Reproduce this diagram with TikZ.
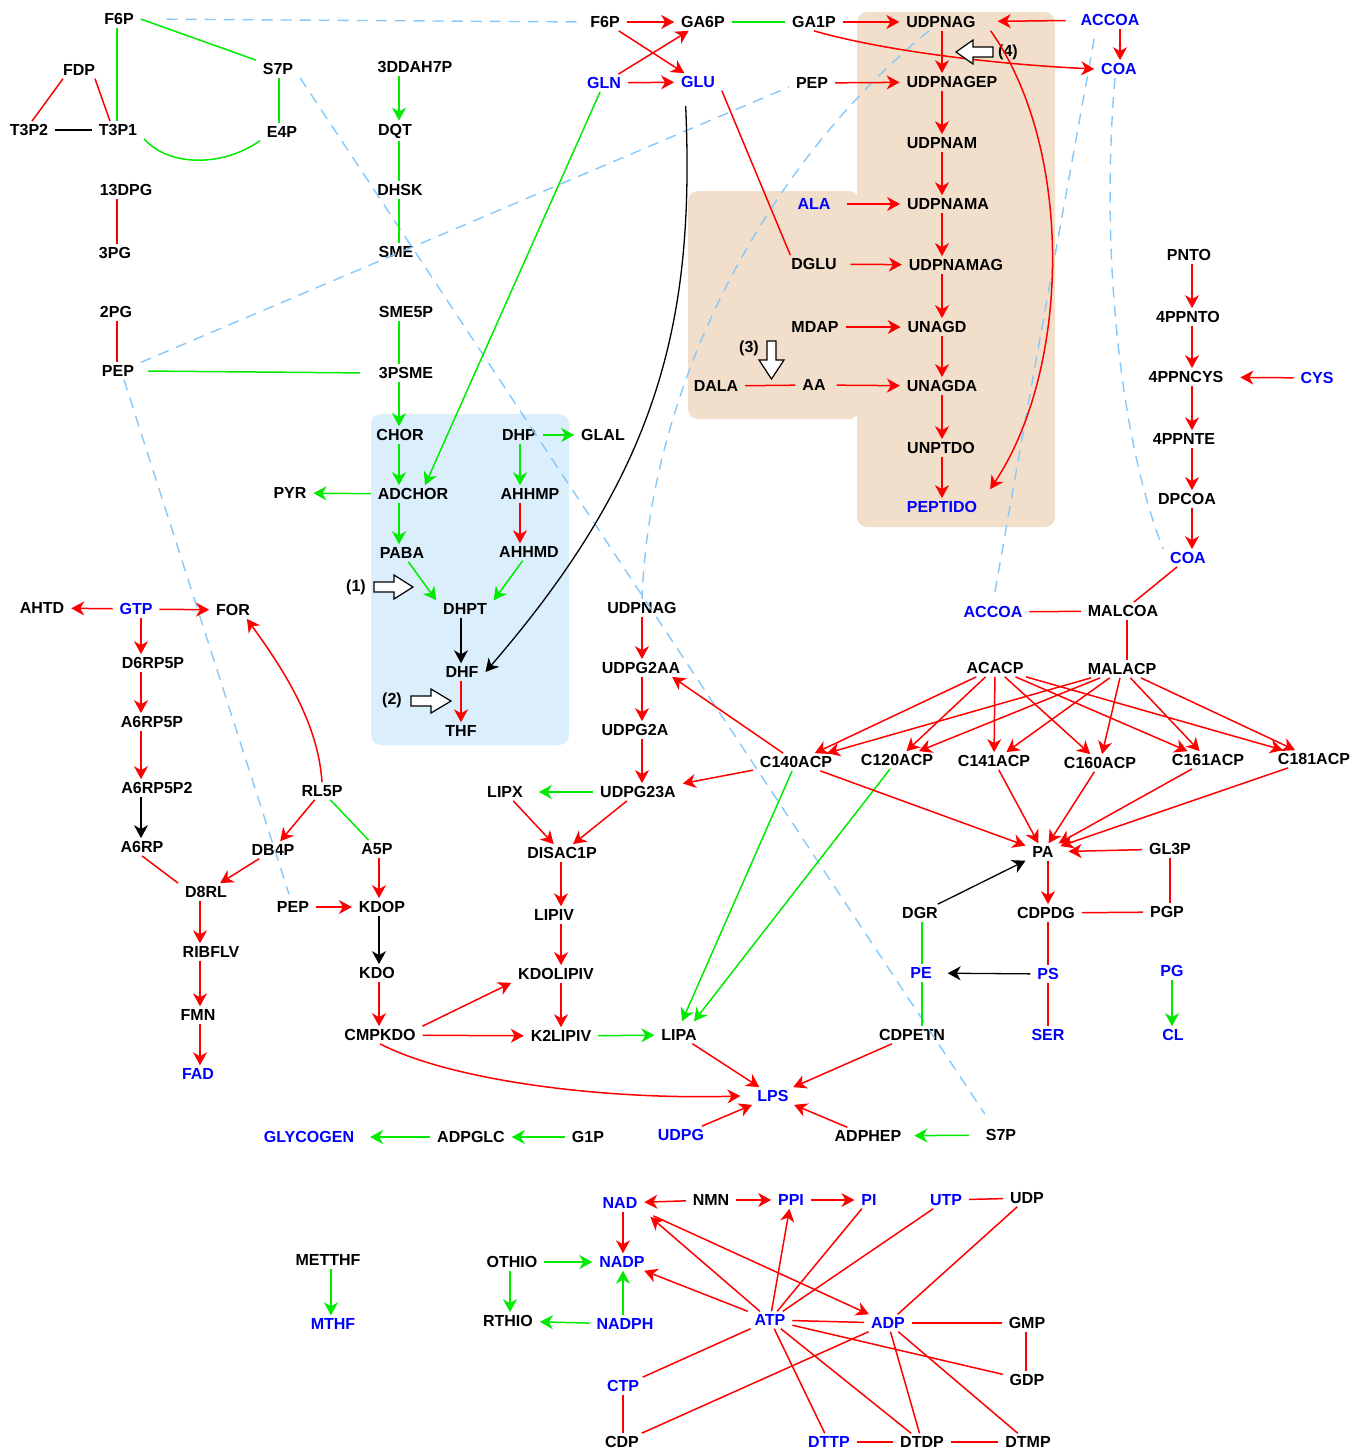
\documentclass[tikz,border=0pt]{standalone}
\usepackage{fontspec}
\setmainfont{Liberation Sans}
\usetikzlibrary{arrows.meta}
\definecolor{cred}{RGB}{255,0,0}
\definecolor{cgreen}{RGB}{0,235,0}
\definecolor{tblue}{RGB}{0,0,255}
\definecolor{cdash}{RGB}{135,200,250}
\definecolor{bxblue}{RGB}{219,238,252}
\definecolor{bxbrown}{RGB}{242,223,203}
\newcommand\lbl{\fontsize{16}{19}\selectfont\bfseries}
\begin{document}
\begin{tikzpicture}[x=1pt,y=-1pt,
  n/.style={font=\lbl, inner xsep=7pt, inner ysep=3.2pt, outer sep=0pt},
  bn/.style={n, text=tblue},
  r/.style={draw=cred, line width=1.5pt},
  g/.style={draw=cgreen, line width=1.5pt},
  k/.style={draw=black, line width=1.3pt},
  ar/.style={-{Stealth[length=13pt,width=14pt,inset=4pt]}},
  ds/.style={draw=cdash, line width=1.4pt, dash pattern=on 11pt off 8pt},
  hol/.style={draw=black, fill=white, line width=1.2pt, line join=miter},
]
\useasboundingbox (0,0) rectangle (1352,1451);
% boxes
\fill[bxblue, rounded corners=10pt] (371,414) rectangle (569,745);
\fill[bxbrown, rounded corners=10pt] (857,12) rectangle (1055,527);
\fill[bxbrown, rounded corners=10pt] (688,191) rectangle (859,419);
% column coordinates
\coordinate (xA) at (117,0);
\coordinate (xB) at (279,0);
\coordinate (xC) at (399,0);
\coordinate (xD) at (520,0);
\coordinate (xE) at (461,0);
\coordinate (xF) at (141,0);
\coordinate (xG) at (200,0);
\coordinate (xH) at (379,0);
\coordinate (xI) at (642,0);
\coordinate (xJ) at (561,0);
\coordinate (xK) at (942,0);
\coordinate (xL) at (1120,0);
\coordinate (xM) at (1192,0);
\coordinate (xN) at (1048,0);
\coordinate (xO) at (922,0);
\coordinate (xP) at (1170,0);
\coordinate (xP2) at (1172,0);
\coordinate (xQ) at (331,0);
\coordinate (xR) at (510,0);
\coordinate (xS) at (623,0);
\coordinate (xT) at (1026,0);
\coordinate (xU) at (1127,0);
% nodes top-left
\node[n] (F6Pa) at (119,19) {F6P};
\node[n] (FDP) at (79,70) {FDP};
\node[n] (S7Pa) at (278,69) {S7P};
\node[n] (T3P2) at (29,130) {T3P2};
\node[n] (T3P1) at (118,130) {T3P1};
\node[n] (E4P) at (282,132) {E4P};
\node[n] (DDAH) at (415,67) {3DDAH7P};
\node[n] (DQT) at (395,131) {DQT};
\node[n] (DHSK) at (400,190) {DHSK};
\node[n] (SME) at (396,252) {SME};
\node[n] (DPG13) at (126,190) {13DPG};
\node[n] (PG3) at (115,253) {3PG};
\node[n] (PG2) at (116,312) {2PG};
\node[n] (PEPa) at (118,371) {PEP};
\node[n] (SMEP) at (406,312) {SME5P};
\node[n] (PSME) at (406,373) {3PSME};
% top middle
\node[n] (F6Pb) at (605,22) {F6P};
\node[n] (GA6P) at (703,22) {GA6P};
\node[n] (GA1P) at (814,22) {GA1P};
\node[bn] (GLN) at (604,83) {GLN};
\node[bn] (GLU) at (698,82) {GLU};
\node[n] (PEPb) at (812,83) {PEP};
\node[n] (UDPNAGa) at (941,22) {UDPNAG};
\node[n] (UDPNAGEP) at (952,82) {UDPNAGEP};
\node[n] (UDPNAM) at (942,143) {UDPNAM};
\node[bn] (ALA) at (814,204) {ALA};
\node[n] (UDPNAMA) at (948,204) {UDPNAMA};
\node[n] (DGLU) at (814,264) {DGLU};
\node[n] (UDPNAMAG) at (956,265) {UDPNAMAG};
\node[n] (MDAP) at (815,327) {MDAP};
\node[n] (UNAGD) at (937,327) {UNAGD};
\node[n] (DALA) at (716,386) {DALA};
\node[n] (AA) at (814,385) {AA};
\node[n] (UNAGDA) at (942,386) {UNAGDA};
\node[n] (UNPTDO) at (941,448) {UNPTDO};
\node[bn] (PEPTIDO) at (942,507) {PEPTIDO};
\node[bn] (ACCOAa) at (1110,20) {ACCOA};
\node[bn] (COAa) at (1119,69) {COA};
\node[n] (L3) at (749,348) {(3)};
\node[n] (L4) at (1008,52) {(4)};
% right
\node[n] (PNTO) at (1189,255) {PNTO};
\node[n] (PPNTO) at (1188,317) {4PPNTO};
\node[n] (PPNCYS) at (1186,377) {4PPNCYS};
\node[bn] (CYS) at (1317,378) {CYS};
\node[n] (PPNTE) at (1184,439) {4PPNTE};
\node[n] (DPCOA) at (1187,499) {DPCOA};
\node[bn] (COAb) at (1188,558) {COA};
\node[bn] (ACCOAb) at (993,612) {ACCOA};
\node[n] (MALCOA) at (1123,611) {MALCOA};
\node[n] (ACACP) at (995,668) {ACACP};
\node[n] (MALACP) at (1122,669) {MALACP};
\node[n] (C140ACP) at (796,762) {C140ACP};
\node[n] (C120ACP) at (897,760) {C120ACP};
\node[n] (C141ACP) at (994,761) {C141ACP};
\node[n] (C160ACP) at (1100,763) {C160ACP};
\node[n] (C161ACP) at (1208,760) {C161ACP};
\node[n] (C181ACP) at (1314,759) {C181ACP};
\node[n] (PA) at (1043,852) {PA};
\node[n] (GL3P) at (1170,849) {GL3P};
\node[n] (DGR) at (920,913) {DGR};
\node[n] (CDPDG) at (1046,913) {CDPDG};
\node[n] (PGP) at (1167,912) {PGP};
\node[bn] (PE) at (921,973) {PE};
\node[bn] (PS) at (1048,974) {PS};
\node[bn] (PG) at (1172,971) {PG};
\node[n] (CDPETN) at (912,1035) {CDPETN};
\node[bn] (SER) at (1048,1035) {SER};
\node[bn] (CL) at (1173,1035) {CL};
% blue box
\node[n] (CHOR) at (400,435) {CHOR};
\node[n] (DHP) at (519,435) {DHP};
\node[n] (GLAL) at (603,435) {GLAL};
\node[n] (PYR) at (290,493) {PYR};
\node[n] (ADCHOR) at (413,494) {ADCHOR};
\node[n] (AHHMP) at (530,494) {AHHMP};
\node[n] (PABA) at (402,553) {PABA};
\node[n] (AHHMD) at (529,552) {AHHMD};
\node[n] (L1) at (356,587) {(1)};
\node[n] (DHPT) at (465,609) {DHPT};
\node[n] (DHF) at (462,672) {DHF};
\node[n] (L2) at (392,700) {(2)};
\node[n] (THF) at (461,731) {THF};
% left middle
\node[n] (AHTD) at (42,608) {AHTD};
\node[bn] (GTP) at (136,609) {GTP};
\node[n] (FOR) at (233,610) {FOR};
\node[n] (D6RP5P) at (153,663) {D6RP5P};
\node[n] (A6RP5P) at (152,722) {A6RP5P};
\node[n] (A6RP5P2) at (157,788) {A6RP5P2};
\node[n] (A6RP) at (142,847) {A6RP};
\node[n] (RL5P) at (322,791) {RL5P};
\node[n] (DB4P) at (273,850) {DB4P};
\node[n] (A5P) at (377,849) {A5P};
\node[n] (D8RL) at (206,892) {D8RL};
\node[n] (PEPc) at (293,907) {PEP};
\node[n] (KDOP) at (382,907) {KDOP};
\node[n] (RIBFLV) at (211,952) {RIBFLV};
\node[n] (KDO) at (377,973) {KDO};
\node[n] (FMN) at (198,1015) {FMN};
\node[n] (CMPKDO) at (380,1035) {CMPKDO};
\node[bn] (FAD) at (198,1074) {FAD};
% lipid A
\node[n] (UDPNAGb) at (642,608) {UDPNAG};
\node[n] (UDPG2AA) at (641,668) {UDPG2AA};
\node[n] (UDPG2A) at (635,730) {UDPG2A};
\node[n] (UDPG23A) at (638,792) {UDPG23A};
\node[n] (LIPX) at (505,792) {LIPX};
\node[n] (DISAC1P) at (562,853) {DISAC1P};
\node[n] (LIPIV) at (554,915) {LIPIV};
\node[n] (KDOLIPIV) at (556,974) {KDOLIPIV};
\node[n] (K2LIPIV) at (561,1036) {K2LIPIV};
\node[n] (LIPA) at (679,1035) {LIPA};
\node[bn] (LPS) at (773,1096) {LPS};
\node[bn] (UDPG) at (681,1135) {UDPG};
\node[n] (ADPHEP) at (868,1136) {ADPHEP};
\node[n] (S7Pb) at (1001,1135) {S7P};
\node[bn] (GLYCOGEN) at (309,1137) {GLYCOGEN};
\node[n] (ADPGLC) at (471,1137) {ADPGLC};
\node[n] (G1P) at (588,1137) {G1P};
% bottom
\node[bn] (NAD) at (620,1203) {NAD};
\node[n] (NMN) at (711,1200) {NMN};
\node[bn] (PPI) at (791,1200) {PPI};
\node[bn] (PI) at (869,1200) {PI};
\node[bn] (UTP) at (946,1200) {UTP};
\node[n] (UDP) at (1027,1198) {UDP};
\node[n] (METTHF) at (328,1260) {METTHF};
\node[bn] (MTHF) at (333,1324) {MTHF};
\node[n] (OTHIO) at (512,1262) {OTHIO};
\node[bn] (NADP) at (622,1262) {NADP};
\node[n] (RTHIO) at (508,1321) {RTHIO};
\node[bn] (NADPH) at (625,1324) {NADPH};
\node[bn] (ATP) at (770,1320) {ATP};
\node[bn] (ADP) at (888,1323) {ADP};
\node[n] (GMP) at (1027,1323) {GMP};
\node[n] (GDP) at (1027,1380) {GDP};
\node[bn] (CTP) at (623,1386) {CTP};
\node[n] (CDP) at (622,1442) {CDP};
\node[bn] (DTTP) at (829,1442) {DTTP};
\node[n] (DTDP) at (922,1442) {DTDP};
\node[n] (DTMP) at (1028,1442) {DTMP};
% dashed links
\draw[ds, shorten <=26pt, shorten >=3pt] (F6Pa.east) -- (F6Pb.west);
\draw[ds] (S7Pa.south east) -- ([xshift=6pt,yshift=12pt]S7Pb.north west);
\draw[ds] (PEPa.north east) -- ([yshift=-4pt]PEPb.west);
\draw[ds] ([xshift=6pt]PEPa.south) -- ([xshift=-4pt,yshift=4pt]PEPc.north);
\draw[ds] ([xshift=-12pt]UDPNAGa.south) .. controls (770,160) and (650,380) .. (UDPNAGb.north);
\draw[ds, shorten <=10pt, shorten >=8pt] ([xshift=-14pt]ACCOAa.south) .. controls (1065,200) and (1025,420) .. (ACCOAb.north);
\draw[ds] ([xshift=-4pt]COAa.south) .. controls (1100,250) and (1120,440) .. (COAb.north west);
% top-left edges
\draw[g] (F6Pa.east) -- (S7Pa.north west);
\draw[g] (F6Pa.south -| xA) -- (T3P1.north -| xA);
\draw[r] ([xshift=7pt]FDP.south west) -- ([xshift=3pt]T3P2.north);
\draw[r] ([xshift=-7pt]FDP.south east) -- ([xshift=-8pt]T3P1.north);
\draw[k] (T3P2) -- (T3P1);
\draw[g] (S7Pa.south -| xB) -- (E4P.north -| xB);
\draw[g] (T3P1.south east) .. controls (170,168) and (225,166) .. (E4P.south west);
\draw[g,ar] (DDAH.south -| xC) -- (DQT.north -| xC);
\draw[g] (DQT.south -| xC) -- (DHSK.north -| xC);
\draw[g] (DHSK.south -| xC) -- (SME.north -| xC);
\draw[r] (DPG13.south -| xA) -- (PG3.north -| xA);
\draw[r] (PG2.south -| xA) -- (PEPa.north -| xA);
\draw[g] (SMEP.south -| xC) -- (PSME.north -| xC);
\draw[g, shorten <=7pt, shorten >=12pt] (PEPa.east) -- (PSME.west);
\draw[g,ar] (PSME.south -| xC) -- (CHOR.north -| xC);
% top middle edges
\draw[r,ar] (F6Pb) -- (GA6P);
\draw[r,ar] (F6Pb) -- (GLU);
\draw[r,ar] (GLN) -- (GA6P);
\draw[r,ar] (GLN) -- (GLU);
\draw[g] (GA6P) -- (GA1P);
\draw[r,ar] (GA1P) -- (UDPNAGa);
\draw[r,ar] (GA1P.south) .. controls (880,50) and (990,64) .. (COAa.west);
\draw[r,ar] (PEPb) -- (UDPNAGEP);
\draw[r] (GLU.south east) -- ([xshift=6pt]DGLU.north west);
\draw[k,ar,shorten <=15pt] ([xshift=-13pt]GLU.south) .. controls (695,320) and (660,470) .. (DHF.east);
% peptidoglycan
\draw[r,ar,shorten <=8pt,shorten >=15pt] (ACCOAa) -- (UDPNAGa);
\draw[r,ar] (ACCOAa.south -| xL) -- (COAa.north -| xL);
\foreach \ua/\ub in {UDPNAGa/UDPNAGEP, UDPNAGEP/UDPNAM, UDPNAM/UDPNAMA, UDPNAMA/UDPNAMAG, UDPNAMAG/UNAGD, UNAGD/UNAGDA, UNAGDA/UNPTDO, UNPTDO/PEPTIDO}
  \draw[r,ar] (\ua.south -| xK) -- (\ub.north -| xK);
\draw[r,ar] ([xshift=8pt]UDPNAGa.south east) .. controls (1075,150) and (1070,370) .. ([xshift=6pt,yshift=9pt]PEPTIDO.north east);
\draw[r,ar,shorten <=10pt] (ALA) -- (UDPNAMA);
\draw[r,ar,shorten <=7pt] (DGLU) -- (UDPNAMAG);
\draw[r,ar] (MDAP) -- (UNAGD);
\draw[r] (DALA) -- (AA);
\draw[r,ar,shorten <=4pt] (AA) -- (UNAGDA);
% folate
\draw[g,ar] (CHOR.south -| xC) -- (ADCHOR.north -| xC);
\draw[g,ar] (GLN) -- ([xshift=12pt]ADCHOR.north);
\draw[g,ar] (DHP) -- (GLAL);
\draw[g,ar] (DHP.south -| xD) -- (AHHMP.north -| xD);
\draw[r,ar] (AHHMP.south -| xD) -- (AHHMD.north -| xD);
\draw[g,ar] (ADCHOR) -- (PYR);
\draw[g,ar] (ADCHOR.south -| xC) -- (PABA.north -| xC);
\draw[g,ar] (PABA) -- (DHPT.north west);
\draw[g,ar] (AHHMD) -- (DHPT.north east);
\draw[k,ar] (DHPT.south -| xE) -- (DHF.north -| xE);
\draw[r,ar] (DHF.south -| xE) -- (THF.north -| xE);
% riboflavin / KDO
\draw[r,ar] (GTP) -- (AHTD);
\draw[r,ar] (GTP) -- (FOR);
\draw[r,ar] (GTP.south -| xF) -- (D6RP5P.north -| xF);
\draw[r,ar] (D6RP5P.south -| xF) -- (A6RP5P.north -| xF);
\draw[r,ar] (A6RP5P.south -| xF) -- (A6RP5P2.north -| xF);
\draw[k,ar] (A6RP5P2.south -| xF) -- (A6RP.north -| xF);
\draw[r] (A6RP.south) -- (D8RL.north west);
\draw[r,ar] (DB4P) -- (D8RL);
\draw[r,ar] (RL5P.north) .. controls (318,720) and (280,665) .. ([xshift=-10pt]FOR.south east);
\draw[r,ar] (RL5P) -- (DB4P);
\draw[g] (RL5P) -- (A5P);
\draw[r,ar] (A5P.south -| xH) -- (KDOP.north -| xH);
\draw[r,ar] (PEPc) -- (KDOP);
\draw[k,ar] (KDOP.south -| xH) -- (KDO.north -| xH);
\draw[r,ar] (KDO.south -| xH) -- (CMPKDO.north -| xH);
\draw[r,ar] (D8RL.south -| xG) -- (RIBFLV.north -| xG);
\draw[r,ar] (RIBFLV.south -| xG) -- (FMN.north -| xG);
\draw[r,ar] (FMN.south -| xG) -- (FAD.north -| xG);
\draw[r,ar] (CMPKDO.north east) -- (KDOLIPIV.south west);
\draw[r,ar] (CMPKDO) -- (K2LIPIV);
\draw[r,ar] (CMPKDO.south) .. controls (450,1080) and (600,1100) .. ([xshift=-10pt]LPS.west);
% lipid A
\draw[r,ar] (UDPNAGb.south -| xI) -- (UDPG2AA.north -| xI);
\draw[r,ar] (UDPG2AA.south -| xI) -- (UDPG2A.north -| xI);
\draw[r,ar] (UDPG2A.south -| xI) -- (UDPG23A.north -| xI);
\draw[g,ar,shorten >=9pt] (UDPG23A) -- (LIPX);
\draw[r,ar] (LIPX) -- (DISAC1P);
\draw[r,ar] (UDPG23A) -- (DISAC1P);
\draw[r,ar] (DISAC1P.south -| xJ) -- (LIPIV.north -| xJ);
\draw[r,ar] (LIPIV.south -| xJ) -- (KDOLIPIV.north -| xJ);
\draw[r,ar] (KDOLIPIV.south -| xJ) -- (K2LIPIV.north -| xJ);
\draw[g,ar] (K2LIPIV) -- (LIPA);
\draw[r,ar] (C140ACP) -- ([xshift=-15pt]UDPG2AA.south east);
\draw[r,ar] (C140ACP) -- (UDPG23A);
\draw[g,ar] (C140ACP) -- ([xshift=3pt,yshift=5pt]LIPA.north);
\draw[g,ar] (C120ACP) -- ([xshift=15pt,yshift=5pt]LIPA.north);
\draw[r,ar] (C140ACP) -- (PA);
\draw[r,ar] (LIPA) -- (LPS);
\draw[r,ar] (CDPETN) -- (LPS);
\draw[r,ar] (UDPG) -- (LPS);
\draw[r,ar] (ADPHEP) -- (LPS);
\draw[g,ar,shorten <=10pt,shorten >=6pt] (S7Pb) -- (ADPHEP);
\draw[g,ar] (G1P) -- (ADPGLC);
\draw[g,ar,shorten >=9pt] (ADPGLC) -- (GLYCOGEN);
% CoA / fatty acids / phospholipids
\draw[r,ar] (PNTO.south -| xM) -- (PPNTO.north -| xM);
\draw[r,ar] (PPNTO.south -| xM) -- (PPNCYS.north -| xM);
\draw[r,ar] (PPNCYS.south -| xM) -- (PPNTE.north -| xM);
\draw[r,ar] (PPNTE.south -| xM) -- (DPCOA.north -| xM);
\draw[r,ar] (DPCOA.south -| xM) -- (COAb.north -| xM);
\draw[r,ar,shorten >=10pt] (CYS) -- (PPNCYS);
\draw[r] (COAb) -- (MALCOA);
\draw[r] (ACCOAb) -- (MALCOA);
\draw[r] (MALCOA.south -| xU) -- (MALACP.north -| xU);
\foreach \tg in {C140ACP,C120ACP,C141ACP,C160ACP,C161ACP,C181ACP} {
  \draw[r,ar] (ACACP) -- (\tg);
  \draw[r,ar] (MALACP) -- (\tg);
}
\foreach \tg in {C141ACP,C160ACP,C161ACP,C181ACP}
  \draw[r,ar] (\tg) -- (PA);
\draw[r,ar,shorten >=8pt] (GL3P) -- (PA);
\draw[r] (GL3P.south -| xP) -- (PGP.north -| xP);
\draw[r,ar] (PA.south -| xN) -- (CDPDG.north -| xN);
\draw[r] (CDPDG) -- (PGP);
\draw[k,ar] (DGR) -- (PA);
\draw[g] (DGR.south -| xO) -- (PE.north -| xO);
\draw[g] (PE.south -| xO) -- (CDPETN.north -| xO);
\draw[k,ar,shorten >=9pt] (PS) -- (PE);
\draw[r] (CDPDG.south -| xN) -- (PS.north -| xN);
\draw[r] (PS.south -| xN) -- (SER.north -| xN);
\draw[g,ar] (PG.south -| xP2) -- (CL.north -| xP2);
% cofactors
\draw[g,ar] (METTHF.south -| xQ) -- (MTHF.north -| xQ);
\draw[g,ar] (OTHIO) -- (NADP);
\draw[g,ar] (OTHIO.south -| xR) -- (RTHIO.north -| xR);
\draw[g,ar] (NADPH) -- (RTHIO);
\draw[g,ar] (NADPH.north -| xS) -- (NADP.south -| xS);
\draw[r,ar] (NMN) -- (NAD);
\draw[r,ar] (NMN) -- (PPI);
\draw[r,ar] (PPI) -- (PI);
\draw[r,ar] (NAD.south -| xS) -- (NADP.north -| xS);
\draw[r,ar,shorten >=8pt] (ATP) -- (NAD.south east);
\draw[r,ar,shorten <=10pt] (NAD.south east) -- (ADP);
\draw[r,ar] (ATP) -- (NADP);
\draw[r,ar] (ATP) -- (PPI);
\draw[r] (ATP) -- (PI);
\draw[r] (ATP) -- (UTP);
\draw[r] (ADP) -- (UDP);
\draw[r] (UTP) -- (UDP);
\draw[r] (ATP) -- (ADP);
\draw[r] (ADP) -- (GMP);
\draw[r] (GMP.south -| xT) -- (GDP.north -| xT);
\draw[r] (ATP) -- (GDP);
\draw[r] (ATP) -- (CTP);
\draw[r] (CTP.south -| xS) -- (CDP.north -| xS);
\draw[r] (ADP) -- (CDP);
\draw[r] (ATP) -- (DTTP);
\draw[r] (ATP) -- (DTDP);
\draw[r] (ADP) -- (DTDP);
\draw[r] (ADP) -- (DTMP);
\draw[r] (DTTP) -- (DTDP);
\draw[r] (DTDP) -- (DTMP);
% hollow arrows
\draw[hol] (374,582) -- (394,582) -- (394,575) -- (413,587) -- (394,599) -- (394,592) -- (374,592) -- cycle;
\draw[hol] (411,696) -- (431,696) -- (431,689) -- (451,701) -- (431,713) -- (431,706) -- (411,706) -- cycle;
\draw[hol] (767,341) -- (776,341) -- (776,360) -- (784,360) -- (771.5,379) -- (759,360) -- (767,360) -- cycle;
\draw[hol] (993,47) -- (973,47) -- (973,40) -- (956,52) -- (973,64) -- (973,57) -- (993,57) -- cycle;
\end{tikzpicture}
\end{document}
